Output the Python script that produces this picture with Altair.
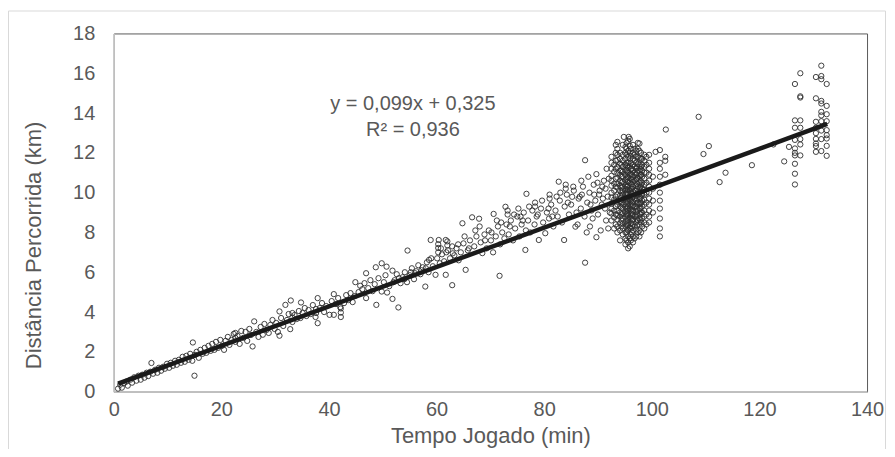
import altair as alt
import pandas as pd

# ---- data (minutes played, km covered) ----
seg1_x = [0.8, 1.2, 1.5, 1.9, 2.3, 2.6, 3.1, 3.4, 3.8, 4.2, 4.6, 5.0, 5.3, 5.7, 6.1, 6.4, 6.8, 7.0, 7.3, 7.7,
          8.1, 8.4, 8.8, 9.2, 9.5, 9.9, 10.3, 10.6, 11.0, 11.4, 11.7, 12.1, 12.5, 12.8, 13.2, 13.5, 13.9, 14.2,
          14.7, 14.6, 15.0, 15.1, 15.4, 15.8, 16.1, 16.5, 16.9, 17.2, 17.6, 18.0, 18.3, 18.7, 19.0, 19.4, 19.8,
          20.1, 20.5, 20.8, 21.2, 21.5, 21.9, 22.3, 22.6, 22.6, 22.6, 23.0, 23.4, 23.7, 24.1, 24.5, 24.8, 25.2,
          25.8, 25.5]
seg1_y = [0.15, 0.35, 0.2, 0.42, 0.5, 0.3, 0.6, 0.45, 0.72, 0.55, 0.8, 0.6, 0.85, 0.7, 0.95, 0.78, 1.0, 1.44, 0.9, 1.1,
          0.95, 1.2, 1.05, 1.25, 1.15, 1.4, 1.2, 1.45, 1.3, 1.55, 1.35, 1.6, 1.45, 1.75, 1.5, 1.8, 1.6, 1.9,
          2.47, 1.55, 0.8, 1.85, 2.0, 1.7, 2.1, 1.9, 2.2, 1.95, 2.3, 2.05, 2.4, 2.1, 2.5, 2.2, 2.6,
          2.3, 2.1, 2.55, 2.75, 2.35, 2.6, 2.9, 2.5, 2.7, 2.95, 2.8, 2.4, 3.05, 2.7, 3.0, 2.55, 3.15,
          2.27, 2.85]

seg2_x = [26.1, 26.5, 26.9, 27.3, 27.7, 28.0, 28.4, 28.8, 29.1, 29.5, 29.9, 30.2, 30.8, 30.8, 30.5, 31.1, 31.5,
          31.9, 32.2, 32.5, 32.9, 32.8, 33.2, 33.2, 33.2, 33.6, 34.0, 34.4, 34.8, 34.7, 35.1, 35.5, 35.8, 36.2,
          36.6, 37.0, 37.9, 37.9, 37.5, 37.6, 37.6, 38.3, 38.7, 39.1, 39.5, 40.1, 40.9, 40.9, 40.5, 41.3, 41.7,
          42.1, 42.2, 42.2, 42.2, 42.8, 43.2, 43.6, 44.0, 44.4, 44.9, 44.8]
seg2_y = [3.53, 3.0, 2.75, 3.25, 2.86, 3.4, 3.1, 2.95, 3.35, 3.6, 3.15, 3.45, 4.03, 2.81, 3.0, 3.7, 3.3,
          4.36, 3.6, 3.9, 4.58, 3.14, 3.5, 3.72, 3.95, 3.85, 3.65, 4.05, 4.48, 3.7, 3.95, 4.2, 3.8, 4.1,
          3.9, 4.35, 4.70, 3.44, 3.75, 3.95, 4.15, 4.2, 4.45, 4.0, 4.3, 3.86, 3.86, 4.90, 4.55, 4.4, 4.7,
          4.25, 3.75, 3.97, 4.18, 4.45, 4.85, 4.6, 4.95, 4.5, 5.50, 4.8]

seg3_x = [45.8, 46.9, 46.9, 45.5, 46.2, 46.6, 47.3, 47.7, 48.1, 48.7, 48.8, 48.5, 49.2, 49.8, 49.8, 50.2, 50.7,
          50.8, 50.5, 51.2, 51.8, 51.8, 52.2, 52.6, 52.9, 53.3, 53.7, 54.1, 54.6, 54.5, 55.0, 55.4, 55.8, 56.2,
          56.6, 57.0, 57.4, 57.9, 58.2, 58.6, 58.9, 58.5, 59.3, 59.8, 60.1, 60.3, 60.3, 60.3, 60.4, 60.6, 61.0,
          61.4, 61.7, 61.7, 62.0, 62.0, 62.1, 62.5, 62.9, 62.9, 63.3, 63.7, 64.1, 64.8, 64.5, 65.0, 65.4]
seg3_y = [5.32, 5.95, 4.70, 5.0, 5.15, 5.45, 5.2, 5.6, 5.05, 6.25, 4.36, 5.4, 5.7, 6.45, 5.03, 5.5, 6.28,
          4.98, 5.85, 5.3, 6.08, 4.66, 5.6, 5.9, 4.23, 5.45, 5.75, 6.0, 7.09, 5.5, 5.85, 6.2, 5.65, 6.05,
          6.35, 5.9, 6.25, 5.28, 6.5, 6.62, 7.62, 6.0, 6.3, 5.87, 6.7, 7.0, 7.22, 7.41, 7.62, 6.45, 6.9,
          6.55, 7.62, 5.87, 7.35, 7.55, 7.1, 6.7, 5.35, 7.3, 6.85, 7.2, 6.6, 8.46, 7.0, 7.45, 6.12]

seg4_x = [65.8, 66.2, 66.6, 67.0, 67.4, 67.9, 68.2, 68.5, 68.9, 69.3, 69.7, 70.1, 70.6, 70.5, 71.0, 71.4, 71.7,
          71.8, 72.2, 72.8, 72.6, 73.0, 73.2, 73.2, 73.4, 73.8, 74.2, 74.6, 75.0, 75.6, 75.4, 75.8, 76.2, 76.5,
          76.7, 76.6, 77.0, 77.4, 77.8, 78.2, 78.3, 78.3, 78.6, 79.0, 79.4, 79.8, 80.2, 80.5, 80.9, 81.0, 81.0,
          81.3, 81.7, 82.1, 82.7, 82.5, 82.9, 83.3, 83.7, 83.8, 84.0, 84.0, 84.2, 84.6, 85.2, 85.0, 85.8, 85.5,
          86.0, 86.2, 86.4, 86.8, 86.9, 87.2, 87.6, 87.6, 87.5, 87.9, 88.0, 88.2, 88.4, 88.5, 88.8, 89.0, 89.2,
          89.3, 89.7, 89.7, 89.5, 90.0, 90.2, 90.3, 90.5, 90.7, 90.8, 91.1, 91.3, 91.5, 91.6, 91.8, 91.9, 92.0]
seg4_y = [7.1, 7.6, 8.76, 7.3, 7.8, 8.69, 7.5, 6.96, 7.9, 7.2, 8.1, 7.6, 8.93, 7.0, 7.8, 8.3, 5.82,
          7.4, 8.0, 9.29, 7.7, 8.4, 8.9, 9.1, 7.9, 8.6, 7.6, 8.2, 8.8, 8.79, 7.8, 8.4, 9.0, 7.12,
          9.94, 8.1, 8.6, 8.0, 9.1, 8.4, 9.3, 9.5, 8.8, 7.62, 9.2, 8.5, 7.96, 9.0, 8.7, 9.7, 9.9,
          9.4, 8.3, 9.1, 10.55, 8.8, 9.6, 8.5, 7.62, 9.3, 10.2, 10.4, 9.9, 8.9, 9.79, 9.4, 8.29, 10.1,
          9.0, 8.4, 9.7, 9.2, 10.6, 10.3, 11.63, 6.48, 8.8, 8.0, 9.5, 10.8, 10.0, 8.3, 9.1, 8.7, 10.4,
          9.9, 10.93, 7.76, 9.6, 8.9, 9.9, 10.1, 8.1, 9.4, 10.3, 10.6, 9.2, 8.6, 11.2, 9.8, 8.2, 10.7]

seg7_x = [52.0, 53.0, 54.0, 55.2, 56.0, 57.2, 58.0, 59.0, 60.8, 61.8, 63.0, 64.0, 65.2, 66.0, 67.2, 68.0, 69.0,
          70.2, 71.2, 72.0, 73.6, 74.4, 75.2, 76.0, 77.2, 78.8, 79.6, 80.8, 81.5, 82.3, 83.0, 84.4, 85.4, 86.6,
          87.0, 88.6, 89.9, 90.9, 91.4, 92.2]
seg7_y = [5.5, 5.7, 5.65, 6.0, 5.95, 6.1, 6.2, 6.7, 7.2, 7.0, 6.95, 7.4, 7.8, 7.2, 8.1, 8.3, 7.6,
          8.0, 8.6, 8.5, 8.3, 8.9, 9.2, 8.6, 9.3, 8.9, 9.6, 9.2, 8.8, 9.8, 10.0, 9.5, 10.3, 9.8,
          9.9, 9.4, 10.5, 9.7, 10.2, 9.0]

seg5_x = ([92.5] * 12 + [93.0] * 8 + [93.6] * 17 + [94.1] * 16 + [94.6] * 18 + [94.8] + [95.1] * 20
          + [95.6] * 22 + [95.7] + [96.1] * 19 + [96.5] * 19 + [97.1] * 16 + [97.7] * 17 + [98.2] * 12
          + [98.6] * 14 + [99.5] * 12 + [100.2] * 4 + [100.7] + [101.5] * 11 + [102.5] * 3 + [102.6])
seg5_y = [8.6, 8.95, 9.2, 9.45, 9.75, 10.0, 10.35, 10.6, 10.85, 11.2, 11.5, 11.8,
          8.2, 8.75, 9.1, 9.65, 10.1, 10.45, 11.05, 11.4,
          8.0, 8.3, 8.65, 8.85, 9.1, 9.4, 9.6, 9.9, 10.25, 10.45, 10.75, 11.0, 11.3, 11.65, 11.9, 12.2, 12.55,
          7.6, 8.1, 8.45, 8.8, 9.0, 9.3, 9.55, 9.85, 10.1, 10.35, 10.6, 10.9, 11.1, 11.45, 11.7, 12.0,
          7.9, 8.2, 8.45, 8.7, 8.95, 9.2, 9.4, 9.65, 9.9, 10.1, 10.3, 10.55, 10.8, 11.05, 11.3, 11.6, 11.9, 12.4,
          12.8,
          7.4, 7.7, 8.0, 8.3, 8.55, 8.8, 9.05, 9.3, 9.5, 9.75, 9.95, 10.2, 10.4, 10.65, 10.9, 11.15, 11.4, 11.7, 12.0, 12.3,
          7.2, 7.5, 7.8, 8.1, 8.35, 8.6, 8.85, 9.1, 9.3, 9.55, 9.75, 9.95, 10.15, 10.35, 10.55, 10.75, 11.0, 11.25,
          11.5, 11.8, 12.1, 12.6,
          12.8,
          7.6, 7.9, 8.2, 8.45, 8.7, 8.95, 9.15, 9.4, 9.6, 9.8, 10.0, 10.2, 10.45, 10.7, 10.95, 11.2, 11.5, 11.85, 12.2,
          7.5, 7.8, 8.1, 8.4, 8.65, 8.9, 9.1, 9.35, 9.55, 9.8, 10.05, 10.3, 10.55, 10.8, 11.1, 11.4, 11.7, 12.0, 12.4,
          7.8, 8.15, 8.5, 8.8, 9.05, 9.3, 9.6, 9.85, 10.1, 10.35, 10.65, 10.9, 11.2, 11.5, 11.8, 12.1,
          7.8, 8.1, 8.4, 8.7, 8.95, 9.2, 9.45, 9.7, 9.95, 10.25, 10.5, 10.8, 11.1, 11.4, 11.75, 12.1, 12.47,
          8.3, 8.7, 9.0, 9.3, 9.6, 9.9, 10.2, 10.5, 10.8, 11.1, 11.4, 11.7,
          8.2, 8.5, 8.8, 9.1, 9.4, 9.65, 9.9, 10.15, 10.4, 10.7, 11.0, 11.3, 11.6, 11.9,
          8.5, 8.8, 9.1, 9.4, 9.7, 10.0, 10.3, 10.6, 10.9, 11.2, 11.5, 11.9,
          9.0, 9.6, 10.2, 10.8,
          12.05,
          7.8, 8.2, 8.7, 9.2, 9.6, 10.0, 10.4, 10.8, 11.2, 11.5, 12.14,
          11.6, 11.8, 10.9,
          13.17]

seg8_x = [93.3] * 10 + [95.3] * 14 + [95.9] * 14 + [96.8] * 12 + [97.4] * 12 + [98.0] * 10 + [99.0] * 8
seg8_y = [8.4, 8.9, 9.3, 9.8, 10.3, 10.7, 11.2, 11.6, 12.0, 12.4,
          7.6, 8.0, 8.4, 8.9, 9.2, 9.6, 10.0, 10.3, 10.7, 11.1, 11.5, 11.9, 12.2, 12.5,
          7.3, 7.7, 8.25, 8.75, 9.2, 9.65, 10.1, 10.5, 10.9, 11.35, 11.7, 12.0, 12.35, 12.7,
          7.7, 8.3, 8.8, 9.3, 9.7, 10.1, 10.6, 11.0, 11.3, 11.6, 11.9, 12.2,
          8.0, 8.6, 9.1, 9.5, 9.9, 10.3, 10.75, 11.1, 11.45, 11.8, 12.2, 12.5,
          8.0, 8.5, 9.0, 9.5, 9.9, 10.4, 10.9, 11.3, 11.7, 12.0,
          8.4, 8.9, 9.5, 10.0, 10.5, 11.0, 11.4, 11.8]

seg9_x = [94.35] * 12 + [95.45] * 14 + [96.3] * 14 + [97.25] * 12 + [97.9] * 10
seg9_y = [8.3, 8.6, 8.9, 9.25, 9.5, 9.75, 10.0, 10.25, 10.5, 10.8, 11.1, 11.4,
          8.15, 8.45, 8.7, 8.95, 9.2, 9.45, 9.65, 9.9, 10.1, 10.3, 10.55, 10.8, 11.05, 11.35,
          8.0, 8.3, 8.6, 8.85, 9.05, 9.3, 9.5, 9.7, 9.95, 10.2, 10.4, 10.65, 10.9, 11.2,
          8.35, 8.65, 8.9, 9.2, 9.45, 9.7, 9.95, 10.2, 10.45, 10.7, 11.0, 11.3,
          8.6, 8.9, 9.2, 9.45, 9.75, 10.05, 10.3, 10.6, 10.9, 11.2]

seg6_x = [108.7, 110.6, 109.6, 113.7, 112.6, 118.6, 122.6, 124.6, 125.5,
          126.6, 126.6, 126.6, 126.6, 126.6, 126.6, 126.6, 126.6, 126.6, 126.6,
          127.6, 127.6, 127.6, 127.6, 127.6, 127.6, 127.6, 127.6,
          130.5, 130.5, 130.5, 130.5, 130.5, 130.5, 130.5, 130.5, 130.5,
          131.5, 131.5, 131.5, 131.5, 131.5, 131.5, 131.5, 131.5, 131.5, 131.5, 131.5,
          132.5, 132.5, 132.5, 132.5, 132.5, 132.5, 132.5, 132.5, 132.5]
seg6_y = [13.81, 12.34, 11.94, 11.0, 10.53, 11.38, 12.42, 11.57, 12.30,
          15.46, 13.63, 13.26, 12.65, 12.22, 12.0, 11.87, 11.45, 10.95, 10.41,
          16.0, 14.84, 14.78, 13.63, 13.26, 12.69, 12.42, 11.87,
          15.81, 14.74, 13.56, 13.26, 12.99, 12.70, 12.47, 12.34, 12.05,
          16.38, 15.86, 15.70, 14.61, 14.48, 14.06, 13.88, 13.59, 13.12, 12.69, 12.09,
          15.46, 14.36, 13.94, 13.59, 13.14, 12.89, 12.72, 12.35, 11.85]

# linear trend shown on the chart: y = 0,099x + 0,325
slope = 0.099
intercept = 0.325
trend_x = [0.8, 132.6]

eq_text = ["y = 0,099x + 0,325", "R² = 0,936"]
eq_x = [55.6, 55.6]
eq_y = [14.45, 13.15]

x_ticks = [0, 20, 40, 60, 80, 100, 120, 140]
y_ticks = [0, 2, 4, 6, 8, 10, 12, 14, 16, 18]

xs = seg1_x + seg2_x + seg3_x + seg4_x + seg7_x + seg5_x + seg8_x + seg9_x + seg6_x
ys = seg1_y + seg2_y + seg3_y + seg4_y + seg7_y + seg5_y + seg8_y + seg9_y + seg6_y
df = pd.DataFrame({"x": xs, "y": ys})
trend = pd.DataFrame({"x": trend_x, "y": [slope * v + intercept for v in trend_x]})
eq = pd.DataFrame({"x": eq_x, "y": eq_y, "t": eq_text})

FONT = "Liberation Sans, Arial, sans-serif"
GREY = "#595959"

xscale = alt.Scale(domain=[0, 140], nice=False, zero=False)
yscale = alt.Scale(domain=[0, 18], nice=False)
xaxis = alt.Axis(values=x_ticks, title="Tempo Jogado (min)", titleY=34,
                 titleBaseline="top", labelPadding=8, labelFlush=False, labelOverlap=False)
yaxis = alt.Axis(values=y_ticks, title="Distância Percorrida (km)", titleX=-80,
                 titleY=212, titleAngle=-90, titleBaseline="middle",
                 titleAlign="center", labelPadding=19, labelFlush=False, labelOverlap=False)

X = alt.X("x:Q", scale=xscale, axis=xaxis)
Y = alt.Y("y:Q", scale=yscale, axis=yaxis)

frame = alt.Chart(pd.DataFrame({"k": [0]})).mark_rect(
    fill=None, stroke="#d9d9d9", strokeWidth=1, clip=False
).encode(x=alt.value(-105.5), x2=alt.value(773.5), y=alt.value(-22.5), y2=alt.value(480))

pts = alt.Chart(df).mark_point(
    shape="circle", filled=False, size=28, stroke="#2e2e2e", strokeWidth=1, opacity=0.9
).encode(x=X, y=Y)

line = alt.Chart(trend).mark_line(color="#1a1a1a", strokeWidth=4.5).encode(x=X, y=Y)

txt = alt.Chart(eq).mark_text(font=FONT, fontSize=20, color=GREY, align="center",
                              baseline="middle").encode(x=X, y=Y, text="t:N")

chart = alt.layer(frame, pts, line, txt).properties(
    width=755, height=359,
    autosize=alt.AutoSizeParams(type="none"),
    padding={"left": 106, "top": 25, "right": 20, "bottom": 57},
    background="white",
).configure_view(
    stroke="#595959", strokeWidth=1
).configure_axis(
    domainColor="#bfbfbf", domainWidth=1.5, ticks=False, grid=False, labelOverlap=False,
    labelFont=FONT, labelFontSize=20, labelColor=GREY,
    titleFont=FONT, titleFontSize=22, titleColor=GREY, titleFontWeight="normal",
)

chart.save("out.html", embed_options={"renderer": "svg", "actions": False})
